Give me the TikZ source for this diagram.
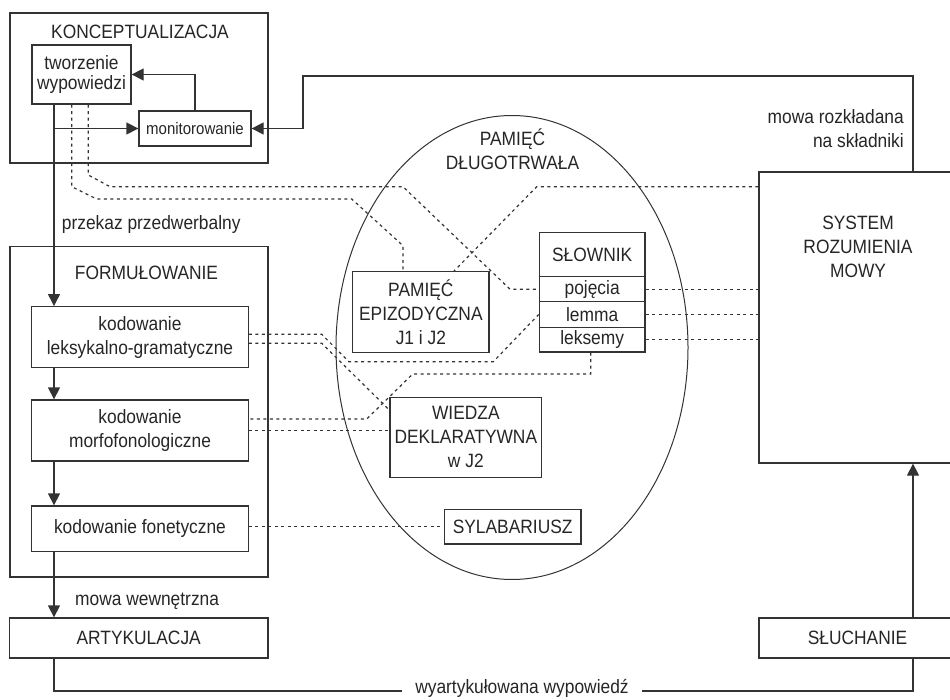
\documentclass[tikz,border=0pt]{standalone}
\usepackage{fontspec}
\setmainfont{Liberation Sans}[FakeStretch=0.9]
\usetikzlibrary{arrows.meta,shapes.geometric}
\definecolor{ink}{HTML}{333333}
\definecolor{txt}{HTML}{262626}
\begin{document}
\begin{tikzpicture}[x=1pt,y=-1pt,
  every node/.style={text=txt, font=\fontsize{19.3}{24}\selectfont, inner sep=0pt},
  box/.style={draw=ink, line width=1.3pt, align=center},
  ln/.style={draw=ink, line width=1.3pt},
  arr/.style={ln, -{Triangle[length=12pt,width=12pt]}},
  dot/.style={draw=ink, line width=1.2pt, dash pattern=on 3pt off 3.5pt},
]
\useasboundingbox (0,0) rectangle (950,700);
\fill[white] (0,0) rectangle (950,700);
\clip (0,0) rectangle (950,700);

\coordinate (mx) at (54,0);
\coordinate (rx) at (913,0);

% --- Konceptualizacja
\node[box, minimum width=258pt, minimum height=150pt] (konc) at (139,88) {};
\node[anchor=base] (konct) at (140,38.3) {KONCEPTUALIZACJA};
\node[box, minimum width=99pt, minimum height=59pt, font=\fontsize{19.3}{20.5}\selectfont] (tworz) at (81.5,74.5) {tworzenie\\wypowiedzi};
\node[box, minimum width=112pt, minimum height=35pt, font=\fontsize{16.7}{20}\selectfont] (monit) at (195,128.5) {monitorowanie};

% --- Formulowanie
\node[box, minimum width=258pt, minimum height=330.3pt] (form) at (139,411.85) {};
\node[anchor=base] (formt) at (146.5,280) {FORMUŁOWANIE};
\node[box, minimum width=216.6pt, minimum height=61pt] (lex) at (140,337.2) {kodowanie\\leksykalno-gramatyczne};
\node[box, minimum width=216.6pt, minimum height=61pt] (morph) at (140,430.5) {kodowanie\\morfofonologiczne};
\node[box, minimum width=216.6pt, minimum height=45.7pt] (fon) at (140,528.85) {kodowanie fonetyczne};

\node[box, minimum width=258.7pt, minimum height=40pt] (artyk) at (138.7,638) {ARTYKULACJA};

% --- right side
\node[box, minimum width=197pt, minimum height=291pt] (system) at (857.5,317.5) {};
\node[anchor=base, align=center] (systxt) at (858,278) {SYSTEM\\ROZUMIENIA\\MOWY};
\node[box, minimum width=197pt, minimum height=40pt] (sluch) at (857.5,638) {SŁUCHANIE};

% --- long-term memory
\node[draw=ink, line width=1pt, ellipse, minimum width=352pt, minimum height=464pt] (ltm) at (512,347.5) {};
\node[anchor=base, align=center] (ltmt) at (512.5,170) {PAMIĘĆ\\DŁUGOTRWAŁA};
\node[box, minimum width=136.3pt, minimum height=81pt] (epiz) at (420.85,312.2) {PAMIĘĆ\\EPIZODYCZNA\\J1 i J2};
\node[box, minimum width=105.7pt, minimum height=44.4pt] (slow) at (592.15,254.5) {SŁOWNIK};
\node[box, minimum width=105.7pt, minimum height=25pt] (poj) at (592.15,289.2) {pojęcia};
\node[box, minimum width=105.7pt, minimum height=25.6pt] (lem) at (592.15,314.5) {lemma};
\node[box, minimum width=105.7pt, minimum height=24.7pt] (leks) at (592.15,339.65) {leksemy};
\node[box, minimum width=151.7pt, minimum height=80pt] (wiedza) at (465.85,437.3) {WIEDZA\\DEKLARATYWNA\\w J2};
\node[box, minimum width=136.7pt, minimum height=34.7pt] (sylab) at (512.65,526.65) {SYLABARIUSZ};

% --- solid connectors
\draw[arr] (tworz.south -| mx) -- (lex.north -| mx);
\draw[arr] (mx |- monit.west) -- (monit.west);
\draw[arr] (monit.north) |- (tworz.east);
\draw[arr] (system.north -| rx) |- (303,76) |- (monit.east);
\draw[arr] (lex.south -| mx) -- (morph.north -| mx);
\draw[arr] (morph.south -| mx) -- (fon.north -| mx);
\draw[arr] (fon.south -| mx) -- (artyk.north -| mx);
\draw[ln] (artyk.south -| mx) |- (rx |- 0,691) -- (sluch.south -| rx);
\draw[arr] (sluch.north -| rx) -- (system.south -| rx);

% --- labels
\node[anchor=base west] (lprzek) at (61.7,230) {przekaz przedwerbalny};
\node[anchor=base west] (lwewn) at (75,605) {mowa wewnętrzna};
\node[anchor=base east, align=right] (lrozk) at (904,148) {mowa rozkładana\\na składniki};
\node[anchor=mid, fill=white, inner xsep=13pt, inner ysep=3pt] (lwyart) at (522,691) {wyartykułowana wypowiedź};

% --- dotted connectors
\draw[dot] (tworz.south -| 71.7,0) -- (71.7,186.7) -- (96.7,199) -- (351.7,199) -- (403,245.7) -- (epiz.north -| 403,0);
\draw[dot] (tworz.south -| 88.3,0) -- (88.3,175) -- (110,186.7) -- (403,186.7) -- (510,289.2) -- (poj.west);
\draw[dot] (system.west |- 0,186.7) -- (536.7,186.7) -- (epiz.north -| 454,0);
\draw[dot] (poj.east) -- (poj.east -| system.west);
\draw[dot] (lem.east) -- (lem.east -| system.west);
\draw[dot] (leks.east) -- (leks.east -| system.west);
\draw[dot] (lex.east |- 0,334.3) -- (321.7,334.3) -- (349,361.7) -- (493.3,361.7) -- (lem.west);
\draw[dot] (lex.east |- 0,343.3) -- (321.7,343.3) -- (wiedza.west |- 0,410);
\draw[dot] (leks.south -| 590.7,0) -- (590.7,374) -- (412.7,374) -- (366.7,419) -- (morph.east |- 0,419);
\draw[dot] (morph.east |- 0,430.7) -- (wiedza.west |- 0,430.7);
\draw[dot] (fon.east |- sylab.west) -- (sylab.west);
\end{tikzpicture}
\end{document}
